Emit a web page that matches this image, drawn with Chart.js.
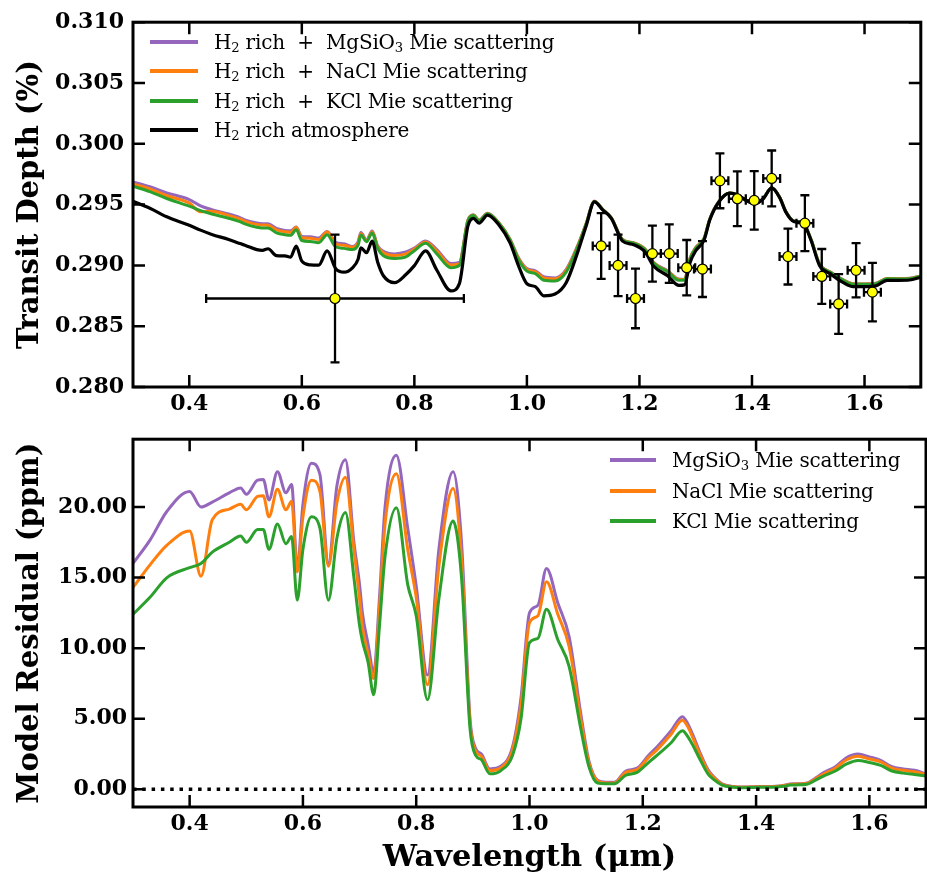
<!DOCTYPE html>
<html>
<head>
<meta charset="utf-8">
<script src="https://cdn.jsdelivr.net/npm/chart.js@4.4.0/dist/chart.umd.min.js"></script>
<style>
  html, body { margin: 0; padding: 0; background: #fff; }
  #wrap { position: relative; width: 927px; height: 877px; overflow: hidden; }
  #wrap canvas { position: absolute; left: 0; }
  #topChart { top: 0; }
  #bottomChart { top: 420px; }
  .legend { position: absolute; left: 0; top: 0; font-family: 'DejaVu Serif', serif; font-size: 20px; color: #000; }
  .row { position: absolute; height: 26px; line-height: 26px; white-space: nowrap; letter-spacing: -0.2px; }
  .swatch { position: absolute; height: 4px; }
  sub { font-size: 66%; vertical-align: -0.25em; line-height: 0; }
</style>
</head>
<body>
<div id="wrap">
  <canvas id="topChart" width="927" height="420"></canvas>
  <canvas id="bottomChart" width="927" height="457"></canvas>
  <div class="legend" id="topLegend"></div>
  <div class="legend" id="bottomLegend"></div>
</div>
<script>
// Shared wavelength grid (micron) for the model spectra
const wavelength = [
  0.30, 0.33, 0.36, 0.40, 0.42, 0.44, 0.47, 0.49, 0.50, 0.52, 0.53, 0.54, 0.555, 0.57, 0.58, 0.59, 0.60,
  0.615, 0.63, 0.645, 0.66, 0.675, 0.69, 0.70, 0.705, 0.715, 0.725, 0.735, 0.745, 0.765, 0.785, 0.80,
  0.82, 0.84, 0.865, 0.88, 0.895, 0.905, 0.915, 0.93, 0.95, 0.97, 0.985, 1.00, 1.015, 1.03, 1.05, 1.07,
  1.09, 1.105, 1.12, 1.135, 1.15, 1.17, 1.19, 1.21, 1.225, 1.25, 1.27, 1.28, 1.29, 1.30, 1.315, 1.325,
  1.34, 1.36, 1.375, 1.39, 1.405, 1.42, 1.435, 1.45, 1.46, 1.475, 1.49, 1.505, 1.52, 1.54, 1.56, 1.58,
  1.60, 1.62, 1.64, 1.66, 1.68, 1.70
];

// H2 rich clear atmosphere, transit depth (%)
const clearDepth = [
  0.29527, 0.2947, 0.2940, 0.2933, 0.2929, 0.29255, 0.29213, 0.2918, 0.29164, 0.2913, 0.29124, 0.29137, 0.2908, 0.29078, 0.29068, 0.29159, 0.29035,
  0.29004, 0.29002, 0.29119, 0.28975, 0.28944, 0.2898, 0.2905, 0.29145, 0.29105, 0.29199, 0.29024, 0.28915, 0.28858, 0.28925, 0.28998,
  0.29119, 0.2896, 0.2879, 0.2885, 0.2932, 0.29387, 0.29347, 0.29414, 0.29335, 0.29186, 0.28998, 0.28849, 0.28825, 0.2875, 0.28765, 0.2886,
  0.29105, 0.2932, 0.29522, 0.29454, 0.29387, 0.292, 0.2917, 0.2911, 0.28995, 0.28915, 0.28836, 0.2884, 0.29024, 0.2912, 0.2921, 0.29373,
  0.29514, 0.29594, 0.29578, 0.29532, 0.29508, 0.29548, 0.29637, 0.2955, 0.2944, 0.2936, 0.2935, 0.29205, 0.29, 0.28928, 0.28865, 0.28825,
  0.28825, 0.28832, 0.28877, 0.28877, 0.2888, 0.28903
];

// Model residual (cloudy minus clear), ppm
const mgsio3Resid = [
  16.0, 17.65, 19.7, 21.1, 20.0, 20.35, 21.0, 21.35, 20.9, 21.9, 21.95, 20.5, 22.5, 21.0, 21.6, 15.6, 20.2,
  23.1, 22.3, 16.0, 21.5, 23.35, 17.5, 14.5, 12.5, 10.3, 8.3, 13.5, 20.0, 23.66, 18.5, 14.4,
  8.1, 17.0, 22.5, 17.5, 5.0, 2.9, 2.5, 1.45, 1.65, 3.0, 6.5, 12.5, 13.05, 15.65, 13.2, 10.8,
  5.5, 2.0, 0.65, 0.5, 0.5, 1.3, 1.5, 2.4, 3.0, 4.15, 5.15, 4.6, 3.7, 2.7, 1.4, 0.9,
  0.4, 0.2, 0.16, 0.18, 0.2, 0.2, 0.22, 0.3, 0.38, 0.4, 0.45, 0.8, 1.2, 1.6, 2.25, 2.5,
  2.3, 2.05, 1.6, 1.45, 1.35, 1.1
];
const naclResid = [
  14.3, 15.9, 17.3, 18.3, 15.1, 19.1, 19.85, 20.2, 19.8, 20.75, 20.8, 19.3, 21.25, 19.8, 20.4, 15.4, 19.3,
  21.9, 21.1, 15.8, 20.3, 22.1, 17.0, 13.5, 11.5, 9.6, 7.85, 12.8, 18.8, 22.35, 17.0, 13.6,
  7.4, 15.8, 21.3, 16.3, 4.7, 2.7, 2.35, 1.33, 1.55, 2.8, 6.0, 11.8, 12.3, 14.7, 12.4, 10.1,
  5.1, 1.85, 0.6, 0.45, 0.45, 1.2, 1.4, 2.25, 2.8, 3.9, 4.9, 4.4, 3.5, 2.55, 1.3, 0.85,
  0.35, 0.18, 0.15, 0.16, 0.18, 0.18, 0.2, 0.28, 0.35, 0.38, 0.42, 0.75, 1.1, 1.5, 2.1, 2.35,
  2.15, 1.95, 1.5, 1.35, 1.25, 1.05
];
const kclResid = [
  12.4, 13.6, 15.0, 15.7, 16.0, 16.8, 17.5, 17.95, 17.5, 18.4, 18.4, 17.0, 18.8, 17.4, 17.9, 13.4, 17.0,
  19.3, 18.5, 13.4, 17.8, 19.6, 15.0, 11.6, 10.5, 9.0, 6.7, 11.5, 16.5, 19.95, 14.5, 12.3,
  6.35, 13.5, 19.0, 15.0, 4.3, 2.4, 2.1, 1.1, 1.35, 2.4, 5.0, 10.4, 10.7, 12.75, 10.6, 8.7,
  4.4, 1.6, 0.45, 0.4, 0.4, 1.0, 1.2, 1.9, 2.4, 3.3, 4.15, 3.7, 3.0, 2.2, 1.1, 0.7,
  0.3, 0.15, 0.12, 0.13, 0.15, 0.15, 0.17, 0.22, 0.3, 0.32, 0.36, 0.65, 0.95, 1.3, 1.8, 2.05,
  1.9, 1.7, 1.3, 1.15, 1.05, 0.95
];

// Observed transit depths with errors
const obsWl = [0.659, 1.132, 1.162, 1.193, 1.223, 1.253, 1.284, 1.312, 1.343, 1.374, 1.404, 1.435, 1.464, 1.494, 1.524, 1.554, 1.585, 1.614];
const obsWlErr = [0.229, 0.015, 0.015, 0.015, 0.015, 0.015, 0.015, 0.015, 0.015, 0.015, 0.015, 0.015, 0.015, 0.015, 0.015, 0.015, 0.015, 0.015];
const obsDepth = [0.28728, 0.2916, 0.29, 0.28728, 0.29097, 0.29097, 0.28981, 0.2897, 0.29696, 0.29548, 0.29535, 0.29715, 0.29073, 0.29347, 0.28909, 0.28683, 0.2896, 0.2878];
const obsDepthErr = [0.00525, 0.0027, 0.00253, 0.00245, 0.0023, 0.0024, 0.00228, 0.0023, 0.00226, 0.00225, 0.0024, 0.0023, 0.0023, 0.0023, 0.00226, 0.00246, 0.00223, 0.0024];

// Axis ticks
const xTicks = [0.4, 0.6, 0.8, 1.0, 1.2, 1.4, 1.6];
const topYTicks = [0.280, 0.285, 0.290, 0.295, 0.300, 0.305, 0.310];
const bottomYTicks = [0, 5, 10, 15, 20];

const seriesColors = ['#9467bd', '#ff7f0e', '#2ca02c'];
const topLabels = [
  'H<sub>2</sub> rich &nbsp;+&nbsp; MgSiO<sub>3</sub> Mie scattering',
  'H<sub>2</sub> rich &nbsp;+&nbsp; NaCl Mie scattering',
  'H<sub>2</sub> rich &nbsp;+&nbsp; KCl Mie scattering',
  'H<sub>2</sub> rich atmosphere'
];
const bottomLabels = [
  'MgSiO<sub>3</sub> Mie scattering',
  'NaCl Mie scattering',
  'KCl Mie scattering'
];

const FONT = "'DejaVu Serif', serif";

const pts = (xs, ys) => xs.map((x, i) => ({ x, y: ys[i] }));
// cloudy depth = clear depth + residual (1 ppm = 1e-4 %)
const cloudyDepth = r => clearDepth.map((d, i) => d + r[i] * 1e-4);

// inward ticks on all four sides plus thick frame
const frameTicks = {
  id: 'frameTicks',
  afterDatasetsDraw(chart) {
    const { ctx, chartArea: a, scales: { x, y } } = chart;
    const L = 12;
    ctx.save();
    ctx.strokeStyle = '#000';
    ctx.lineWidth = 2.5;
    ctx.beginPath();
    x.ticks.forEach(t => {
      const px = x.getPixelForValue(t.value);
      ctx.moveTo(px, a.bottom); ctx.lineTo(px, a.bottom - L);
      ctx.moveTo(px, a.top); ctx.lineTo(px, a.top + L);
    });
    y.ticks.forEach(t => {
      const py = y.getPixelForValue(t.value);
      ctx.moveTo(a.left, py); ctx.lineTo(a.left + L, py);
      ctx.moveTo(a.right, py); ctx.lineTo(a.right - L, py);
    });
    ctx.stroke();
    ctx.lineWidth = 3;
    ctx.strokeRect(a.left, a.top, a.right - a.left, a.bottom - a.top);
    ctx.restore();
  }
};

// error bars drawn just before the marker dataset
const errorBars = {
  id: 'errorBars',
  beforeDatasetDraw(chart, args) {
    const ds = chart.data.datasets[args.index];
    if (!ds.yErr) return;
    const { ctx, scales: { x, y } } = chart;
    const cap = 4.5;
    ctx.save();
    ctx.strokeStyle = '#000';
    ctx.lineWidth = 2.3;
    ctx.beginPath();
    ds.data.forEach((p, i) => {
      const px = x.getPixelForValue(p.x);
      const py = y.getPixelForValue(p.y);
      const y0 = y.getPixelForValue(p.y - ds.yErr[i]);
      const y1 = y.getPixelForValue(p.y + ds.yErr[i]);
      const x0 = x.getPixelForValue(p.x - ds.xErr[i]);
      const x1 = x.getPixelForValue(p.x + ds.xErr[i]);
      ctx.moveTo(px, y0); ctx.lineTo(px, y1);
      ctx.moveTo(px - cap, y0); ctx.lineTo(px + cap, y0);
      ctx.moveTo(px - cap, y1); ctx.lineTo(px + cap, y1);
      ctx.moveTo(x0, py); ctx.lineTo(x1, py);
      ctx.moveTo(x0, py - cap); ctx.lineTo(x0, py + cap);
      ctx.moveTo(x1, py - cap); ctx.lineTo(x1, py + cap);
    });
    ctx.stroke();
    ctx.restore();
  }
};

function lineSet(data, color, order, width = 3) {
  return {
    data, borderColor: color, backgroundColor: color, borderWidth: width,
    pointRadius: 0, fill: false, cubicInterpolationMode: 'monotone', order
  };
}

function axes(yTicks, yMin, yMax, yFmt, yTitle, xHeight, xTitle, yPad) {
  return {
    x: {
      type: 'linear', min: 0.3, max: 1.7,
      afterBuildTicks: s => { s.ticks = xTicks.map(v => ({ value: v })); },
      afterFit: s => { s.height = xHeight; },
      grid: { display: false, drawTicks: false },
      border: { display: false },
      ticks: {
        autoSkip: false, maxRotation: 0, padding: 4, color: '#000',
        font: { family: FONT, size: 22, weight: 'bold' },
        callback: v => v.toFixed(1)
      },
      title: xTitle ? {
        display: true, text: xTitle, color: '#000',
        font: { family: FONT, size: 30.5, weight: 'bold', lineHeight: 1.2 },
        padding: { top: 0, bottom: 1 }
      } : { display: false }
    },
    y: {
      type: 'linear', min: yMin, max: yMax,
      afterBuildTicks: s => { s.ticks = yTicks.map(v => ({ value: v })); },
      afterFit: s => { s.width = 133; },
      grid: { display: false, drawTicks: false },
      border: { display: false },
      ticks: {
        autoSkip: false, padding: yPad, color: '#000',
        font: { family: FONT, size: 22, weight: 'bold' },
        callback: yFmt
      },
      title: {
        display: true, text: yTitle, color: '#000',
        font: { family: FONT, size: 29, weight: 'bold', lineHeight: 1.2 },
        padding: { top: 13, bottom: 0 }
      }
    }
  };
}

const baseOptions = {
  responsive: false,
  animation: false,
  events: [],
  plugins: { legend: { display: false }, tooltip: { enabled: false } }
};

new Chart(document.getElementById('topChart'), {
  type: 'line',
  data: {
    datasets: [
      lineSet(pts(wavelength, clearDepth), '#000', 1, 3.2),
      lineSet(pts(wavelength, cloudyDepth(kclResid)), seriesColors[2], 2),
      lineSet(pts(wavelength, cloudyDepth(naclResid)), seriesColors[1], 3),
      lineSet(pts(wavelength, cloudyDepth(mgsio3Resid)), seriesColors[0], 4),
      {
        type: 'scatter', data: pts(obsWl, obsDepth), xErr: obsWlErr, yErr: obsDepthErr,
        showLine: false, pointRadius: 5, backgroundColor: '#ffff00', borderColor: '#000',
        borderWidth: 1.2, order: 0
      }
    ]
  },
  options: {
    ...baseOptions,
    layout: { padding: { top: 15, right: 1, left: 0, bottom: 0 } },
    scales: axes(topYTicks, 0.28, 0.31, v => v.toFixed(3), 'Transit Depth (%)', 33, null, 9)
  },
  plugins: [errorBars, frameTicks]
});

new Chart(document.getElementById('bottomChart'), {
  type: 'line',
  data: {
    datasets: [
      lineSet(pts(wavelength, kclResid), seriesColors[2], 1),
      lineSet(pts(wavelength, naclResid), seriesColors[1], 2),
      lineSet(pts(wavelength, mgsio3Resid), seriesColors[0], 3),
      {
        data: [{ x: 0.3, y: 0 }, { x: 1.7, y: 0 }], borderColor: '#000', borderWidth: 3.5,
        borderDash: [3.5, 5.8], pointRadius: 0, fill: false, order: 0
      }
    ]
  },
  options: {
    ...baseOptions,
    layout: { padding: { top: 14, right: 1, left: 0, bottom: 0 } },
    scales: axes(bottomYTicks, -1.25, 24.8, v => v.toFixed(2), 'Model Residual (ppm)', 70, 'Wavelength (\u03bcm)', 6)
  },
  plugins: [frameTicks]
});

// HTML legends (subscripts need real markup)
function buildLegend(el, labels, colors, rowYs, swX, swW, textX) {
  el.innerHTML = labels.map((t, i) => `
    <div class="swatch" style="left:${swX}px;top:${rowYs[i] - 2}px;width:${swW}px;background:${colors[i]}"></div>
    <div class="row" style="left:${textX}px;top:${rowYs[i] - 13}px">${t}</div>`).join('');
}
buildLegend(document.getElementById('topLegend'), topLabels, [...seriesColors, '#000'], [42, 71, 101, 130], 150, 48, 214);
buildLegend(document.getElementById('bottomLegend'), bottomLabels, seriesColors, [460, 491, 521], 610, 46, 672);
</script>
</body>
</html>
